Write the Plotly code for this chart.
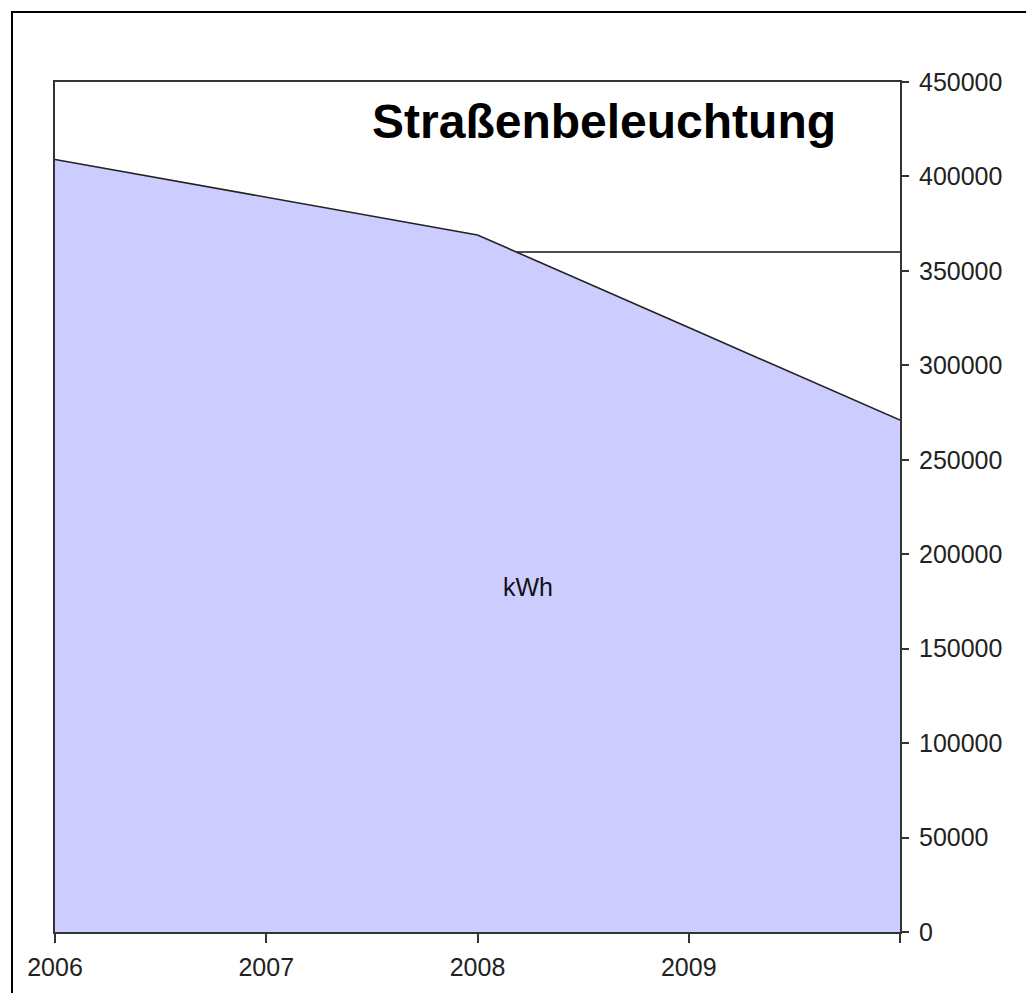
import plotly.graph_objects as go

years = [2006, 2007, 2008, 2009, 2010]
kwh = [409000, 389000, 369000, 320000, 271000]
target_years = [2006, 2010]
target_kwh = [360000, 360000]
x_tick_vals = [2006, 2007, 2008, 2009, 2010]
x_tick_text = ["2006", "2007", "2008", "2009", ""]
y_tick_vals = [0, 50000, 100000, 150000, 200000, 250000, 300000, 350000, 400000, 450000]
title_text = "Straßenbeleuchtung"
series_label = "kWh"

W, H = 1034, 993
OFF = 7  # page offset of the rendered figure
PL, PR, PT, PB = 54, 899, 81, 931  # plot box in screen pixels
L, T = PL - OFF, PT - OFF
R = W - (PR - OFF)
B = H - (PB - OFF)
pw, ph = PR - PL, PB - PT

fig = go.Figure()
fig.add_trace(go.Scatter(x=target_years, y=target_kwh, mode="lines",
                         line=dict(color="#111111", width=1.6), hoverinfo="skip",
                         showlegend=False))
fig.add_trace(go.Scatter(x=years, y=kwh, mode="lines", fill="tozeroy",
                         fillcolor="#CCCCFF", line=dict(color="#222222", width=1.6),
                         showlegend=False))

def px_x(p):
    return (p - PL) / pw

def px_y(p):
    return (PB - p) / ph

fig.add_annotation(text=title_text, xref="paper", yref="paper",
                   x=px_x(603), y=px_y(120), xanchor="center", yanchor="middle",
                   showarrow=False,
                   font=dict(family="Liberation Sans, Arial", size=48, color="black",
                             weight="bold"))
fig.add_annotation(text=series_label, xref="paper", yref="paper",
                   x=px_x(527), y=px_y(586), xanchor="center", yanchor="middle",
                   showarrow=False,
                   font=dict(family="Liberation Sans, Arial", size=25, color="#111111"))

fig.add_shape(type="rect", xref="paper", yref="paper",
              x0=px_x(11), x1=px_x(1080), y0=px_y(1040), y1=px_y(11),
              line=dict(color="black", width=2), fillcolor="rgba(0,0,0,0)", layer="above")

fig.update_layout(
    width=W, height=H,
    margin=dict(l=L, r=R, t=T, b=B),
    paper_bgcolor="white", plot_bgcolor="white",
    font=dict(family="Liberation Sans, Arial", size=25, color="#222222"),
    xaxis=dict(range=[2006, 2010], tickmode="array", tickvals=x_tick_vals,
               ticktext=x_tick_text, ticks="outside", ticklen=9, tickwidth=2,
               tickcolor="#333333", showline=True, linecolor="#333333", linewidth=2,
               mirror=True, showgrid=False, zeroline=False, ticklabelstandoff=3,
               tickfont=dict(size=25)),
    yaxis=dict(range=[0, 450000], side="right", tickmode="array", tickvals=y_tick_vals,
               ticks="outside", ticklen=7, tickwidth=2, tickcolor="#333333",
               showline=True, linecolor="#333333", linewidth=2, mirror=True,
               showgrid=False, zeroline=False, tickformat="d", ticklabelstandoff=5,
               tickfont=dict(size=25)),
)

fig.write_html("out.html")
